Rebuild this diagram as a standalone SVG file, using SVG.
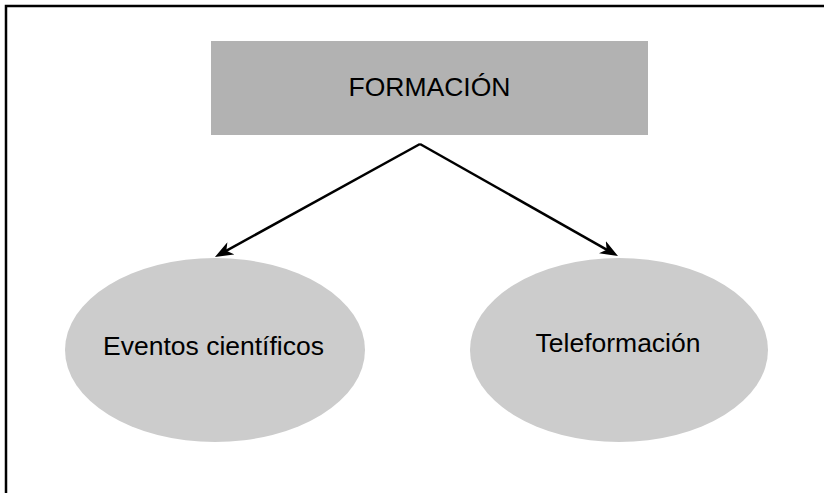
<svg xmlns="http://www.w3.org/2000/svg" width="824" height="493" viewBox="0 0 824 493">
  <style>
    .lbl { font-family: "Liberation Sans", Arial, sans-serif; font-size: 26.5px; fill: #000; text-anchor: middle; }
    .conn { stroke: #000; stroke-width: 2.5; fill: none; marker-end: url(#arrow); }
    .oval { fill: #cccccc; }
  </style>
  <defs>
    <marker id="arrow" viewBox="0 0 18 14" markerWidth="18" markerHeight="14" refX="11" refY="7" orient="auto" markerUnits="userSpaceOnUse">
      <path d="M0,0 L18,7 L0,14 L5,7 Z" fill="#000"/>
    </marker>
  </defs>
  <rect width="824" height="493" fill="#fff"/>
  <path d="M6,493 V6 H824" fill="none" stroke="#000" stroke-width="2.5"/>
  <g id="formacion">
    <rect x="211" y="41" width="437" height="94" fill="#b2b2b2"/>
    <text class="lbl" x="429.5" y="96">FORMACIÓN</text>
  </g>
  <g id="eventos">
    <ellipse class="oval" cx="215" cy="350" rx="150" ry="92"/>
    <text class="lbl" x="213.5" y="355">Eventos científicos</text>
  </g>
  <g id="teleformacion">
    <ellipse class="oval" cx="619" cy="350" rx="149" ry="92"/>
    <text class="lbl" x="618" y="352">Teleformación</text>
  </g>
  <g id="connectors">
    <path class="conn" d="M420,144 L221.1,253.6"/>
    <path class="conn" d="M420,144 L611.9,252.6"/>
  </g>
</svg>
